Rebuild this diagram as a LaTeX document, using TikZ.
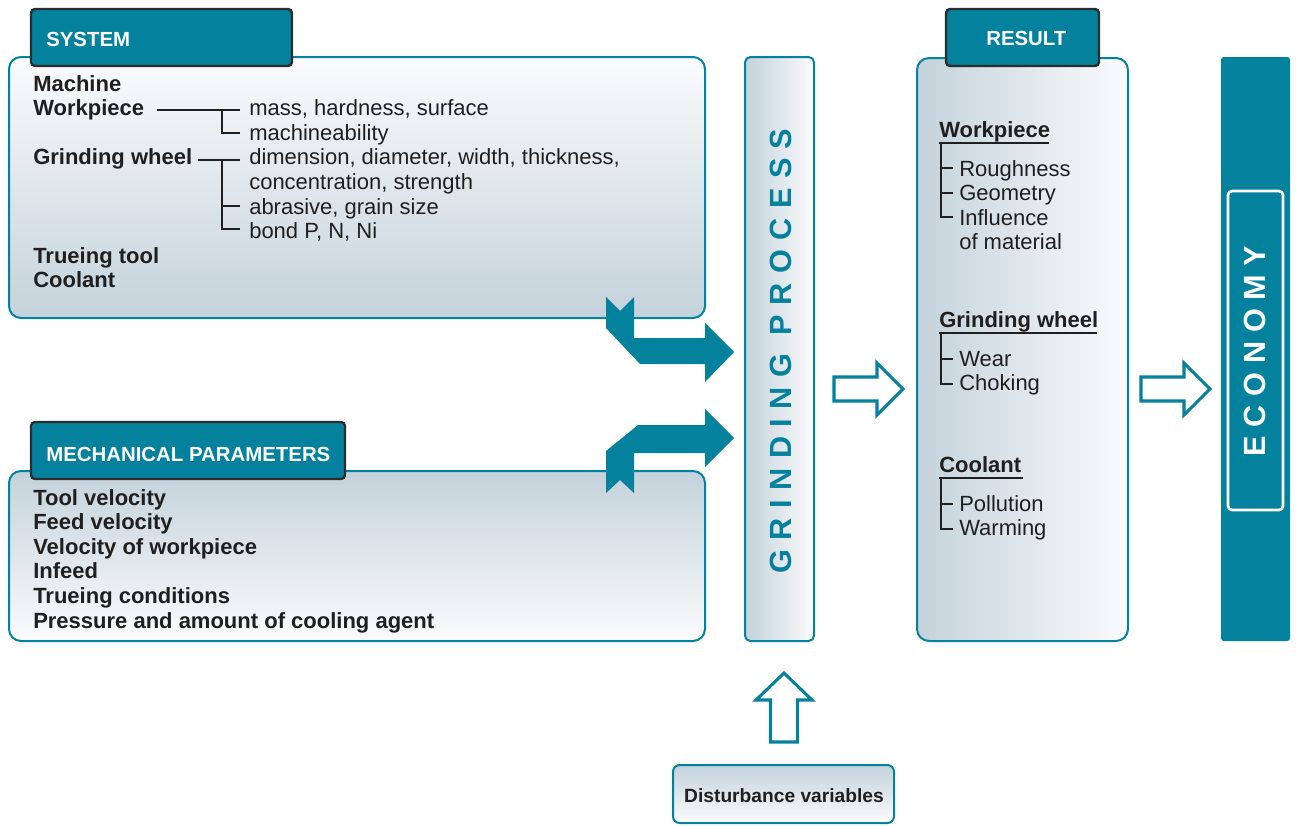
\documentclass[tikz,border=0pt]{standalone}
\usepackage{fontspec}
\setmainfont{Liberation Sans}
\newfontfamily\spacedfont[LetterSpace=31]{Liberation Sans}
\newfontfamily\ecofont[LetterSpace=28.5]{Liberation Sans}
\usetikzlibrary{fit}
\definecolor{teal1}{HTML}{04819D}
\definecolor{shdark}{HTML}{C4D2DB}
\definecolor{shlight}{HTML}{FAFBFC}
\definecolor{tabedge}{HTML}{2A2C2E}
\definecolor{txt}{HTML}{1F1F1F}
\begin{document}
\begin{tikzpicture}[x=0.75pt,y=-0.75pt,
  panel/.style={draw=teal1, line width=1.5pt, rounded corners=9pt, inner sep=0pt, outer sep=0pt},
  tab/.style={draw=tabedge, fill=teal1, line width=1.8pt, rounded corners=3pt, inner sep=0pt, outer sep=0pt},
  tabtxt/.style={anchor=base west, text=white, font=\fontsize{15.3}{18}\selectfont\bfseries, inner sep=0pt},
  btxt/.style={anchor=base west, text=txt, font=\fontsize{16.5}{19}\selectfont\bfseries, inner sep=0pt},
  rtxt/.style={anchor=base west, text=txt, font=\fontsize{16.5}{19}\selectfont, inner sep=0pt},
  tree/.style={draw=txt, line width=0.9pt},
  hollow/.style={draw=teal1, fill=white, line width=2.3pt, line join=miter},
  solidarrow/.style={fill=teal1},
  bigtxt/.style={rotate=90, inner sep=0pt, font=\fontsize{23}{26}\spacedfont\bfseries},
  ecotxtstyle/.style={rotate=90, inner sep=0pt, font=\fontsize{23}{26}\ecofont\bfseries},
  ]
\useasboundingbox (0,0) rectangle (1298,825);

% ---- SYSTEM panel
\node[panel, top color=shlight, bottom color=shdark, fit={(9,57) (705,318)}] (sys) {};
\node[tab, fit={(31,9) (292,66)}] (systab) {};
\node[tabtxt] (systxt) at (46,46) {SYSTEM};

\node[btxt] (s1) at (33,91) {Machine};
\node[btxt] (s2) at (33,115.6) {Workpiece};
\node[btxt] (s3) at (33,164.8) {Grinding wheel};
\node[btxt] (s4) at (33,263.2) {Trueing tool};
\node[btxt] (s5) at (33,287.8) {Coolant};
\node[rtxt] (s6) at (249,115.6) {mass, hardness, surface};
\node[rtxt] (s7) at (249,140.2) {machineability};
\node[rtxt] (s8) at (249,164.8) {dimension, diameter, width, thickness,};
\node[rtxt] (s9) at (249,189.4) {concentration, strength};
\node[rtxt] (s10) at (249,214) {abrasive, grain size};
\node[rtxt] (s11) at (249,238.6) {bond P, N, Ni};
\draw[tree] (157,110) -- (240,110) (222,110) |- (240,133);
\draw[tree] (198,160) -- (240,160) (222,160) |- (240,229) (222,206) -- (240,206);

% ---- MECHANICAL PARAMETERS panel
\node[panel, top color=shdark, bottom color=shlight, fit={(9,471) (705,641)}] (mech) {};
\node[tab, fit={(31,422) (345,479)}] (mechtab) {};
\node[tabtxt] (mechtxt) at (46,461) {MECHANICAL PARAMETERS};
\node[btxt] (p1) at (33,505) {Tool velocity};
\node[btxt] (p2) at (33,529.6) {Feed velocity};
\node[btxt] (p3) at (33,554.2) {Velocity of workpiece};
\node[btxt] (p4) at (33,578.8) {Infeed};
\node[btxt] (p5) at (33,603.4) {Trueing conditions};
\node[btxt] (p6) at (33,628) {Pressure and amount of cooling agent};

% ---- GRINDING PROCESS
\node[panel, rounded corners=4pt, left color=shdark, right color=shlight, fit={(745,57) (814,641)}] (gp) {};
\node[bigtxt, text=teal1] (gptxt) at (781,351) {GRINDING PROCESS};

% ---- RESULT
\node[panel, left color=shdark, right color=shlight, fit={(917,58) (1128,641)}] (res) {};
\node[tab, fit={(946,9) (1099,66)}] (restab) {};
\node[tabtxt] (restxt) at (986,45) {RESULT};
\node[btxt] (r1) at (939,137) {Workpiece};
\node[rtxt] (r2) at (959,176) {Roughness};
\node[rtxt] (r3) at (959,200.6) {Geometry};
\node[rtxt] (r4) at (959,225.2) {Influence};
\node[rtxt] (r5) at (959,249.8) {of material};
\draw[tree] (939,143) -- (1049,143) (941,143) |- (953,217) (941,168) -- (953,168) (941,193) -- (953,193);
\node[btxt] (r6) at (939,327) {Grinding wheel};
\node[rtxt] (r7) at (959,366) {Wear};
\node[rtxt] (r8) at (959,390.6) {Choking};
\draw[tree] (939,333) -- (1097,333) (941,333) |- (953,384) (941,359) -- (953,359);
\node[btxt] (r9) at (939,472) {Coolant};
\node[rtxt] (r10) at (959,511) {Pollution};
\node[rtxt] (r11) at (959,535.6) {Warming};
\draw[tree] (939,478) -- (1023,478) (941,478) |- (953,529) (941,504) -- (953,504);

% ---- ECONOMY
\node[fill=teal1, rounded corners=2pt, inner sep=0pt, fit={(1221,57) (1290,641)}] (eco) {};
\node[draw=white, line width=2pt, rounded corners=3pt, inner sep=0pt, fit={(1228,191) (1283,510)}] (ecoin) {};
\node[ecotxtstyle, text=white] (ecotxt) at (1255,351) {ECONOMY};

% ---- Disturbance
\node[panel, rounded corners=5pt, top color=shdark, bottom color=shlight, fit={(673,765) (894,823)}] (dist) {};
\node[anchor=base, text=txt, inner sep=0pt, font=\fontsize{14.4}{17}\selectfont\bfseries] (disttxt) at (784,802) {Disturbance variables};

% ---- bent solid arrows
\path[solidarrow] (606,297) -- (620,311) -- (634,297) -- (634,338) -- (705,338) -- (705,323)
  -- (734,352) -- (705,382) -- (705,364) -- (640,364) -- (606,328) -- cycle;
\path[solidarrow] (606,493) -- (620,480) -- (634,493) -- (634,453) -- (705,453) -- (705,467)
  -- (734,438) -- (705,409) -- (705,425) -- (638,425) -- (606,451) -- cycle;

% ---- hollow arrows
\draw[hollow] (834,377) -- (877,377) -- (877,363) -- (903,389) -- (877,415) -- (877,401) -- (834,401) -- cycle;
\draw[hollow] (1141,377) -- (1184,377) -- (1184,363) -- (1210,389) -- (1184,415) -- (1184,401) -- (1141,401) -- cycle;
\draw[hollow] (770.5,742) -- (770.5,700) -- (756,700) -- (784,673) -- (812,700) -- (797.5,700) -- (797.5,742) -- cycle;
\end{tikzpicture}
\end{document}
